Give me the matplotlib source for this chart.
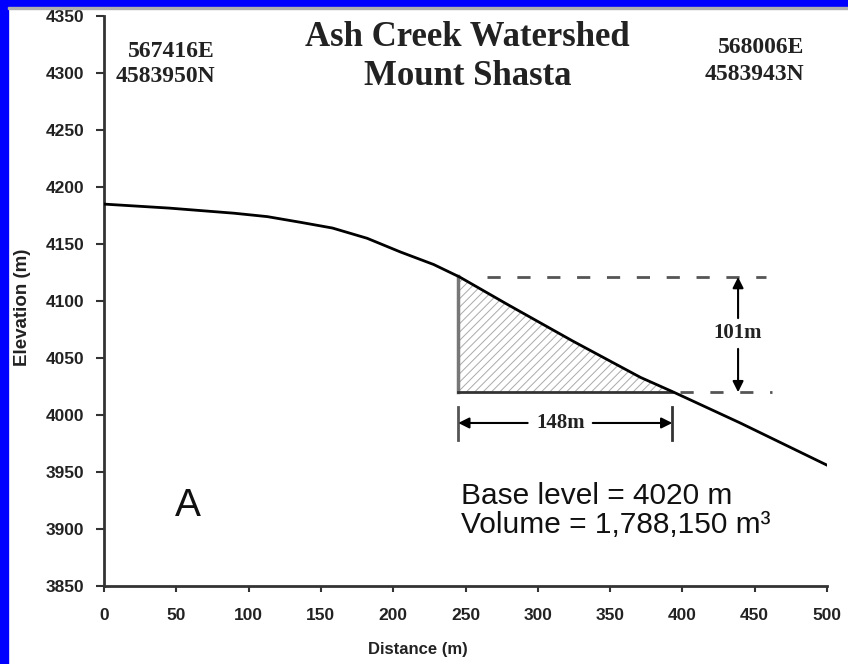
import numpy as np
import matplotlib
matplotlib.use("Agg")
import matplotlib.pyplot as plt
from matplotlib.patches import Rectangle

plt.rcParams['hatch.linewidth'] = 0.7
plt.rcParams['lines.scale_dashes'] = False

# Perfil de elevacao
distancia = [0, 45, 90, 113, 136, 158, 182, 205, 228, 246, 279, 324, 371, 394, 440, 500]
elevacao = [4185, 4181.5, 4177, 4174, 4169, 4164, 4155, 4143, 4132, 4121, 4097, 4065, 4033, 4020, 3993, 3956]

# Triangulo de volume
x_inicio = 245
largura = 148
base = 4020
altura = 101

xticks = [0, 50, 100, 150, 200, 250, 300, 350, 400, 450, 500]
yticks = [3850, 3900, 3950, 4000, 4050, 4100, 4150, 4200, 4250, 4300, 4350]

serif = 'Liberation Serif'
sans = 'Liberation Sans'

fig = plt.figure(figsize=(8.48, 6.64), dpi=100)
fig.patch.set_facecolor('white')
fig.patches.append(Rectangle((0, 0), 8 / 848, 1, transform=fig.transFigure, color='#0000ff', zorder=10))
fig.patches.append(Rectangle((0, 1 - 7 / 664), 1, 7 / 664, transform=fig.transFigure, color='#0000ff', zorder=10))
fig.patches.append(Rectangle((8 / 848, 1 - 9 / 664), 1, 2 / 664, transform=fig.transFigure, color='#b0b0b0', zorder=10))

ax = fig.add_axes([104 / 848, 1 - 586 / 664, 723 / 848, 570 / 664])

# perfil
ax.plot(distancia, elevacao, color='black', lw=2, zorder=5)

# area hachurada
x_fim = x_inicio + largura
x_seg = [x_inicio] + [d for d in distancia if x_inicio < d < x_fim] + [x_fim]
y_seg = np.interp(x_seg, distancia, elevacao)
ax.fill_between(x_seg, base, y_seg, facecolor='white', hatch='////', edgecolor='#aaaaaa', linewidth=0, zorder=2)
topo = base + altura
ax.plot([x_inicio, x_inicio], [base, np.interp(x_inicio, distancia, elevacao)], color='#777777', lw=2.5, zorder=4)
ax.plot([x_inicio, x_fim], [base, base], color='#333333', lw=2, zorder=4)

# linhas tracejadas
ax.plot([265, 458], [topo, topo], color='#555555', lw=2, ls=(0, (9.5, 12)), zorder=3)
ax.plot([398, 462], [base, base], color='#555555', lw=2, ls=(0, (9.5, 12)), zorder=3)

# seta vertical 101m
xv = 438.5
seta = dict(arrowstyle='-|>', color='black', lw=1.5, mutation_scale=16, shrinkA=0, shrinkB=0)
ax.annotate('', xy=(xv, topo), xytext=(xv, 4085), arrowprops=seta)
ax.annotate('', xy=(xv, base), xytext=(xv, 4058), arrowprops=seta)
ax.text(xv, 4072, '101m', family=serif, weight='bold', fontsize=15, color='#222222',
        ha='center', va='center')

# seta horizontal 148m
yh = 3993
ax.plot([x_inicio, x_inicio], [3978, 4007], color='#555555', lw=2)
ax.plot([x_fim, x_fim], [3978, 4007], color='#333333', lw=2)
ax.annotate('', xy=(x_inicio, yh), xytext=(293, yh), arrowprops=seta)
ax.annotate('', xy=(x_fim, yh), xytext=(338, yh), arrowprops=seta)
ax.text(316, yh, '148m', family=serif, weight='bold', fontsize=15, color='#222222',
        ha='center', va='center')

# textos
ax.text(251.5, 4323.7, 'Ash Creek Watershed', family=serif, weight='bold', fontsize=25,
        color='#222222', ha='center', va='baseline')
ax.text(251.5, 4289.5, 'Mount Shasta', family=serif, weight='bold', fontsize=25,
        color='#222222', ha='center', va='baseline')
ax.text(76.8, 4314, '567416E', family=serif, weight='bold', fontsize=17, color='#222222',
        ha='right', va='baseline')
ax.text(76.8, 4292, '4583950N', family=serif, weight='bold', fontsize=17, color='#222222',
        ha='right', va='baseline')
ax.text(484, 4317.6, '568006E', family=serif, weight='bold', fontsize=17, color='#222222',
        ha='right', va='baseline')
ax.text(484, 4294, '4583943N', family=serif, weight='bold', fontsize=17, color='#222222',
        ha='right', va='baseline')
ax.text(58, 3911, 'A', family=sans, fontsize=28, color='#111111', ha='center', va='baseline')
ax.text(246.9, 3922.3, 'Base level = 4020 m', family=sans, fontsize=21.5, color='#111111',
        ha='left', va='baseline')
ax.text(246.9, 3896.9, 'Volume = 1,788,150 m³', family=sans, fontsize=21.5, color='#111111',
        ha='left', va='baseline')

# eixos
ax.set_xlim(0, 500)
ax.set_ylim(3850, 4350)
ax.set_xticks(xticks)
ax.set_yticks(yticks)
ax.tick_params(axis='y', direction='out', length=6, width=1.5, pad=8, colors='#333333',
               labelsize=12.5, labelcolor='#222222')
ax.tick_params(axis='x', direction='out', length=4, width=1.5, pad=12, colors='#333333',
               labelsize=12.5, labelcolor='#222222')
for lab in ax.get_xticklabels() + ax.get_yticklabels():
    lab.set_family(sans)
    lab.set_weight('bold')
for s in ['top', 'right']:
    ax.spines[s].set_visible(False)
for s in ['left', 'bottom']:
    ax.spines[s].set_color('#333333')
    ax.spines[s].set_linewidth(2)

ax.set_xlabel('Distance (m)', family=sans, weight='bold', fontsize=12, color='#222222')
ax.xaxis.set_label_coords(0.434, -0.112)
ax.xaxis.label.set_verticalalignment('center')
ax.set_ylabel('Elevation (m)', family=sans, weight='bold', fontsize=13.5, color='#222222')
ax.yaxis.set_label_coords(-0.1134, 0.489)
ax.yaxis.label.set_verticalalignment('center')

fig.savefig('out.png', dpi=100, facecolor='white')
